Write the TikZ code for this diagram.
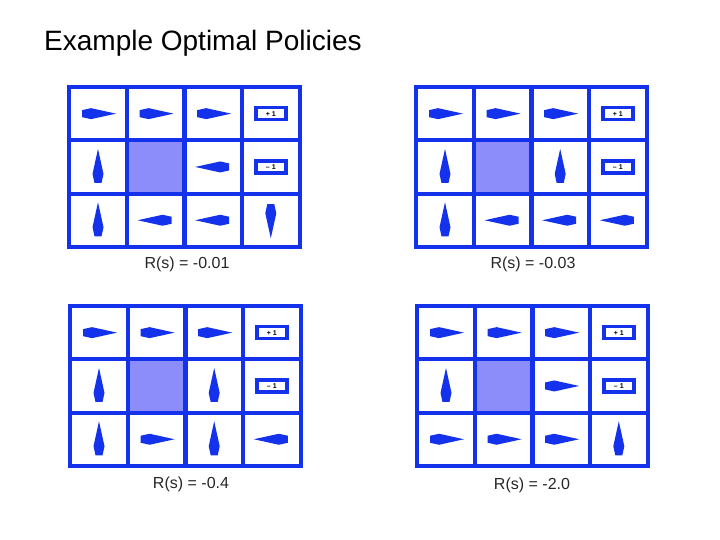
\documentclass[tikz,border=0pt]{standalone}
\usepackage{fontspec}
\setmainfont{Liberation Sans}
\definecolor{gb}{RGB}{20,50,235}
\definecolor{wallc}{RGB}{140,140,250}
\tikzset{
  cellbox/.style={draw=gb,line width=4pt,minimum width=58pt,minimum height=53.3pt,inner sep=0pt,anchor=north west},
  wallbox/.style={cellbox,fill=wallc},
  termbox/.style={draw=gb,line width=3.5pt,minimum width=30pt,minimum height=12pt,inner sep=0pt,font=\fontsize{7}{7}\selectfont\bfseries},
  lab/.style={font=\fontsize{16}{16}\selectfont,text=black!85},
  arr/.pic={\fill[gb] (-16,-3.5)--(-7,-5.5)--(18,0)--(-7,5.5)--(-16,3.5)--cycle;}
}
\newcommand{\gridw}[4]{% x0 y0 name list
  \foreach \t [count=\i from 0] in {#4}{%
    \pgfmathtruncatemacro{\c}{mod(\i,4)}%
    \pgfmathtruncatemacro{\r}{div(\i,4)}%
    \pgfmathsetmacro{\xx}{#1+\c*57.6}%
    \pgfmathsetmacro{\yy}{#2+\r*53.3}%
    \if\t W
      \node[wallbox] (#3-\i) at (\xx,\yy) {};
    \else
      \node[cellbox] (#3-\i) at (\xx,\yy) {};
    \fi
    \if\t R \pic[rotate=0] at (#3-\i.center) {arr};\fi
    \if\t L \pic[rotate=180] at (#3-\i.center) {arr};\fi
    \if\t U \pic[rotate=90] at (#3-\i.center) {arr};\fi
    \if\t D \pic[rotate=-90] at (#3-\i.center) {arr};\fi
    \if\t P \node[termbox] (#3-t\i) at (#3-\i.center) {+ 1};\fi
    \if\t M \node[termbox] (#3-t\i) at (#3-\i.center) {-- 1};\fi
  }%
}
\begin{document}
\begin{tikzpicture}[x=1pt,y=-1pt]
\useasboundingbox (0,0) rectangle (720,540);
\node[anchor=west,font=\fontsize{28}{28}\selectfont,inner sep=0pt] (title) at (44,43) {Example Optimal Policies};
\gridw{67}{85}{a}{R,R,R,P,U,W,L,M,U,L,L,D}
\gridw{414}{85}{b}{R,R,R,P,U,W,U,M,U,L,L,L}
\gridw{68}{304}{c}{R,R,R,P,U,W,U,M,U,R,U,L}
\gridw{415}{304}{d}{R,R,R,P,U,W,R,M,R,R,R,U}
\node[lab] (la) at (187,264) {R(s) = -0.01};
\node[lab] (lb) at (533,264) {R(s) = -0.03};
\node[lab] (lc) at (191,484) {R(s) = -0.4};
\node[lab] (ld) at (532,485) {R(s) = -2.0};
\end{tikzpicture}
\end{document}
